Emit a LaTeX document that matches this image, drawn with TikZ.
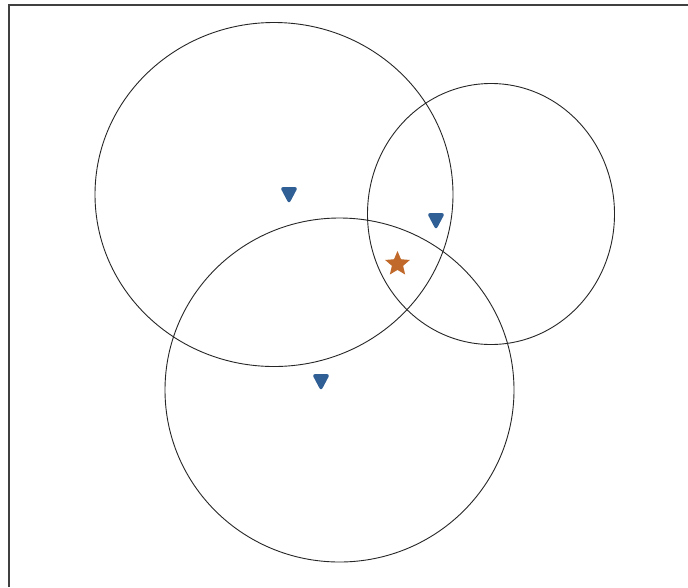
\documentclass[tikz,border=0pt]{standalone}
\usetikzlibrary{shapes.geometric}
\definecolor{markblue}{HTML}{2F5F95}
\definecolor{starorange}{HTML}{C0692A}
\definecolor{framegray}{HTML}{404040}
\tikzset{
  ring/.style={draw=black!85, line width=0.9pt},
  tri/.pic={\fill[markblue, rounded corners=3.2pt] (-9,-8) -- (9,-8) -- (0,9) -- cycle;},
}
\begin{document}
\begin{tikzpicture}[x=1pt, y=-1pt]
\useasboundingbox (0,0) rectangle (688,587);
\fill[white] (0,0) rectangle (688,587);
\draw[framegray, line width=2pt] (9,587) -- (9,5) -- (688,5);
% circles
\draw[ring] (274,194.5) ellipse [x radius=179, y radius=172];
\draw[ring] (491,214) ellipse [x radius=123.5, y radius=130.5];
\draw[ring] (339.5,390) ellipse [x radius=174.5, y radius=172];
% markers
\pic at (289,195) {tri};
\pic at (436,221) {tri};
\pic at (321,382) {tri};
\node[star, star points=5, star point ratio=2.2, fill=starorange, minimum size=26pt, inner sep=0pt] (st) at (397.5,264) {};
\end{tikzpicture}
\end{document}
